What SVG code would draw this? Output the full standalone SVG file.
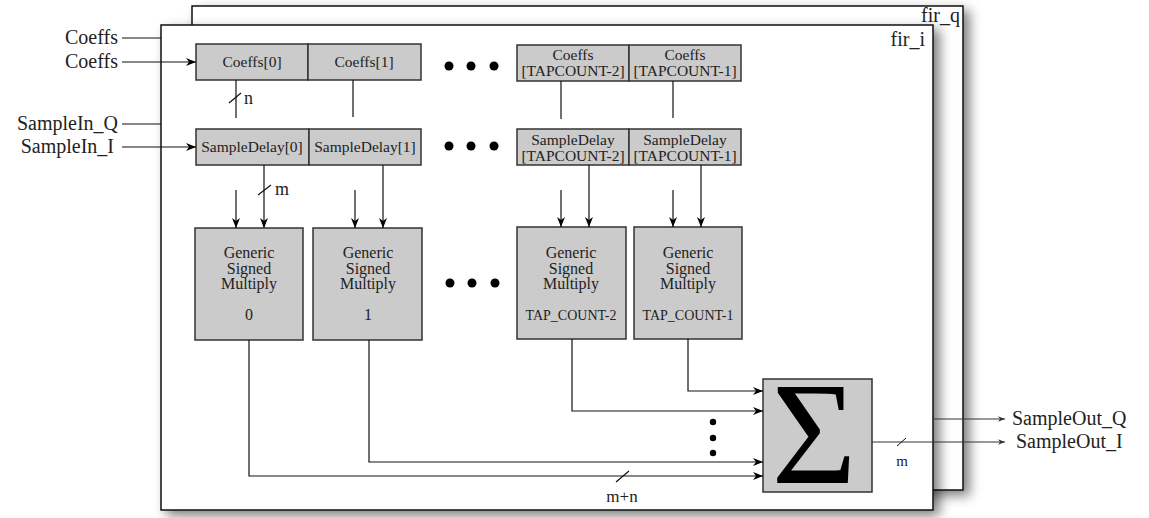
<svg xmlns="http://www.w3.org/2000/svg" width="1149" height="518" viewBox="0 0 1149 518">
<defs>
<style>
.t{font-family:"Liberation Serif","DejaVu Serif",serif;fill:#222}
.lbl{font-size:20px}
.bx{font-size:15.5px}
.mb{font-size:16px}
.box{fill:#cbcbcb;stroke:#333;stroke-width:1.5}
.frame{fill:#fff;stroke:#111;stroke-width:1.5}
.ln{fill:none;stroke:#111;stroke-width:1.2}
.arr{fill:none;stroke:#111;stroke-width:1.2;marker-end:url(#ah)}
.arrs{fill:none;stroke:#333;stroke-width:1;marker-end:url(#ahs)}
.dot{fill:#000}
</style>
<marker id="ah" viewBox="0 0 10 8" refX="10" refY="4" markerWidth="10" markerHeight="8" markerUnits="userSpaceOnUse" orient="auto">
<path d="M0,0 L10,4 L0,8 L3,4 Z" fill="#000"/>
</marker>
<marker id="ahs" viewBox="0 0 10 8" refX="10" refY="4" markerWidth="7" markerHeight="6" markerUnits="userSpaceOnUse" orient="auto">
<path d="M0,0 L10,4 L0,8 L3,4 Z" fill="#333"/>
</marker>
<filter id="sh" x="-5%" y="-5%" width="115%" height="115%">
<feDropShadow dx="6" dy="5" stdDeviation="6" flood-color="#000" flood-opacity="0.5"/>
</filter>
</defs>

<g id="frame_q">
<rect class="frame" x="192" y="6" width="771" height="484" filter="url(#sh)"/>
<text class="t lbl" x="960" y="22" text-anchor="end">fir_q</text>
</g>
<g id="frame_i">
<rect class="frame" x="161" y="25" width="772" height="485" filter="url(#sh)"/>
<text class="t lbl" x="925" y="46" text-anchor="end">fir_i</text>
</g>

<g id="inputs">
<text class="t lbl" x="118" y="44" text-anchor="end">Coeffs</text>
<text class="t lbl" x="118" y="68" text-anchor="end">Coeffs</text>
<text class="t lbl" x="118" y="130" text-anchor="end">SampleIn_Q</text>
<text class="t lbl" x="114" y="153" text-anchor="end">SampleIn_I</text>
</g>

<g id="coeffs0"><rect class="box" x="196" y="44" width="112" height="36"/><text class="t bx" x="252" y="67" text-anchor="middle">Coeffs[0]</text></g>
<g id="coeffs1"><rect class="box" x="308" y="44" width="113" height="36"/><text class="t bx" x="364" y="67" text-anchor="middle">Coeffs[1]</text></g>
<g id="coeffsN2"><rect class="box" x="517" y="45" width="112" height="36"/><text class="t bx" x="573" y="60" text-anchor="middle">Coeffs</text><text class="t bx" x="573" y="76" text-anchor="middle">[TAPCOUNT-2]</text></g>
<g id="coeffsN1"><rect class="box" x="629" y="45" width="112" height="36"/><text class="t bx" x="685" y="60" text-anchor="middle">Coeffs</text><text class="t bx" x="685" y="76" text-anchor="middle">[TAPCOUNT-1]</text></g>

<g id="delay0"><rect class="box" x="196" y="129" width="113" height="36"/><text class="t bx" x="252" y="152" text-anchor="middle">SampleDelay[0]</text></g>
<g id="delay1"><rect class="box" x="309" y="129" width="112" height="36"/><text class="t bx" x="365" y="152" text-anchor="middle">SampleDelay[1]</text></g>
<g id="delayN2"><rect class="box" x="517" y="129" width="112" height="36"/><text class="t bx" x="573" y="145" text-anchor="middle">SampleDelay</text><text class="t bx" x="573" y="161" text-anchor="middle">[TAPCOUNT-2]</text></g>
<g id="delayN1"><rect class="box" x="629" y="129" width="112" height="36"/><text class="t bx" x="685" y="145" text-anchor="middle">SampleDelay</text><text class="t bx" x="685" y="161" text-anchor="middle">[TAPCOUNT-1]</text></g>

<g id="mult0"><rect class="box" x="195" y="228" width="108" height="112"/>
<text class="t mb" x="249" y="258" text-anchor="middle">Generic</text><text class="t mb" x="249" y="274" text-anchor="middle">Signed</text><text class="t mb" x="249" y="289" text-anchor="middle">Multiply</text><text class="t mb" x="249" y="320" text-anchor="middle">0</text></g>
<g id="mult1"><rect class="box" x="313" y="228" width="109" height="112"/>
<text class="t mb" x="368" y="258" text-anchor="middle">Generic</text><text class="t mb" x="368" y="274" text-anchor="middle">Signed</text><text class="t mb" x="368" y="289" text-anchor="middle">Multiply</text><text class="t mb" x="368" y="320" text-anchor="middle">1</text></g>
<g id="multN2"><rect class="box" x="517" y="227" width="109" height="112"/>
<text class="t mb" x="571" y="258" text-anchor="middle">Generic</text><text class="t mb" x="571" y="274" text-anchor="middle">Signed</text><text class="t mb" x="571" y="289" text-anchor="middle">Multiply</text><text class="t" style="font-size:14px" x="571" y="320" text-anchor="middle">TAP_COUNT-2</text></g>
<g id="multN1"><rect class="box" x="634" y="227" width="108" height="112"/>
<text class="t mb" x="688" y="258" text-anchor="middle">Generic</text><text class="t mb" x="688" y="274" text-anchor="middle">Signed</text><text class="t mb" x="688" y="289" text-anchor="middle">Multiply</text><text class="t" style="font-size:14px" x="688" y="320" text-anchor="middle">TAP_COUNT-1</text></g>

<g id="sum"><rect class="box" x="763" y="379" width="109" height="113"/>
<text class="t" style="font-size:146px;fill:#000" x="814" y="483" text-anchor="middle">Σ</text></g>

<g id="ellipses">
<circle class="dot" cx="449" cy="66" r="4.5"/><circle class="dot" cx="471" cy="66" r="4.5"/><circle class="dot" cx="494" cy="66" r="4.5"/>
<circle class="dot" cx="449" cy="146" r="4.5"/><circle class="dot" cx="471" cy="146" r="4.5"/><circle class="dot" cx="494" cy="146" r="4.5"/>
<circle class="dot" cx="450" cy="283" r="4.5"/><circle class="dot" cx="472" cy="283" r="4.5"/><circle class="dot" cx="495" cy="283" r="4.5"/>
<circle class="dot" cx="713" cy="422" r="3.2"/><circle class="dot" cx="713" cy="438" r="3.2"/><circle class="dot" cx="713" cy="453" r="3.2"/>
</g>

<g id="outputs">
<text class="t lbl" x="1012" y="425">SampleOut_Q</text>
<text class="t lbl" x="1016" y="448">SampleOut_I</text>
</g>

<g id="connectors">
<line class="ln" x1="122" y1="38" x2="161" y2="38"/>
<line class="arr" x1="122" y1="62" x2="196" y2="62"/>
<line class="ln" x1="122" y1="124" x2="161" y2="124"/>
<line class="arr" x1="122" y1="147" x2="196" y2="147"/>

<line class="ln" x1="236" y1="80" x2="236" y2="118"/>
<line class="ln" x1="229" y1="103" x2="241" y2="93"/>
<text class="t" style="font-size:18px" x="244" y="104">n</text>
<line class="ln" x1="353" y1="80" x2="353" y2="117"/>
<line class="ln" x1="561" y1="81" x2="561" y2="119"/>
<line class="ln" x1="673" y1="81" x2="673" y2="118"/>

<line class="arr" x1="236" y1="190" x2="236" y2="228"/>
<line class="arr" x1="264" y1="165" x2="264" y2="228"/>
<line class="ln" x1="258" y1="195" x2="271" y2="185"/>
<text class="t" style="font-size:18px" x="275" y="195">m</text>
<line class="arr" x1="355" y1="190" x2="355" y2="228"/>
<line class="arr" x1="383" y1="165" x2="383" y2="228"/>
<line class="arr" x1="561" y1="190" x2="561" y2="227"/>
<line class="arr" x1="589" y1="165" x2="589" y2="227"/>
<line class="arr" x1="673" y1="190" x2="673" y2="227"/>
<line class="arr" x1="701" y1="165" x2="701" y2="227"/>

<polyline class="arr" points="688,339 688,391 763,391"/>
<polyline class="arr" points="572,339 572,411 763,411"/>
<polyline class="arr" points="369,340 369,462 763,462"/>
<polyline class="arr" points="249,340 249,476 763,476"/>
<line class="ln" x1="616" y1="482" x2="629" y2="471"/>
<text class="t" style="font-size:17px" x="622" y="502" text-anchor="middle">m+n</text>

<line class="arrs" x1="872" y1="442" x2="1005" y2="442"/>
<line class="ln" style="stroke-width:1" x1="897" y1="446" x2="906" y2="438"/>
<text class="t" style="font-size:15px" x="902" y="466" text-anchor="middle">m</text>
<line class="arrs" x1="933" y1="419" x2="1005" y2="419"/>
</g>
</svg>
